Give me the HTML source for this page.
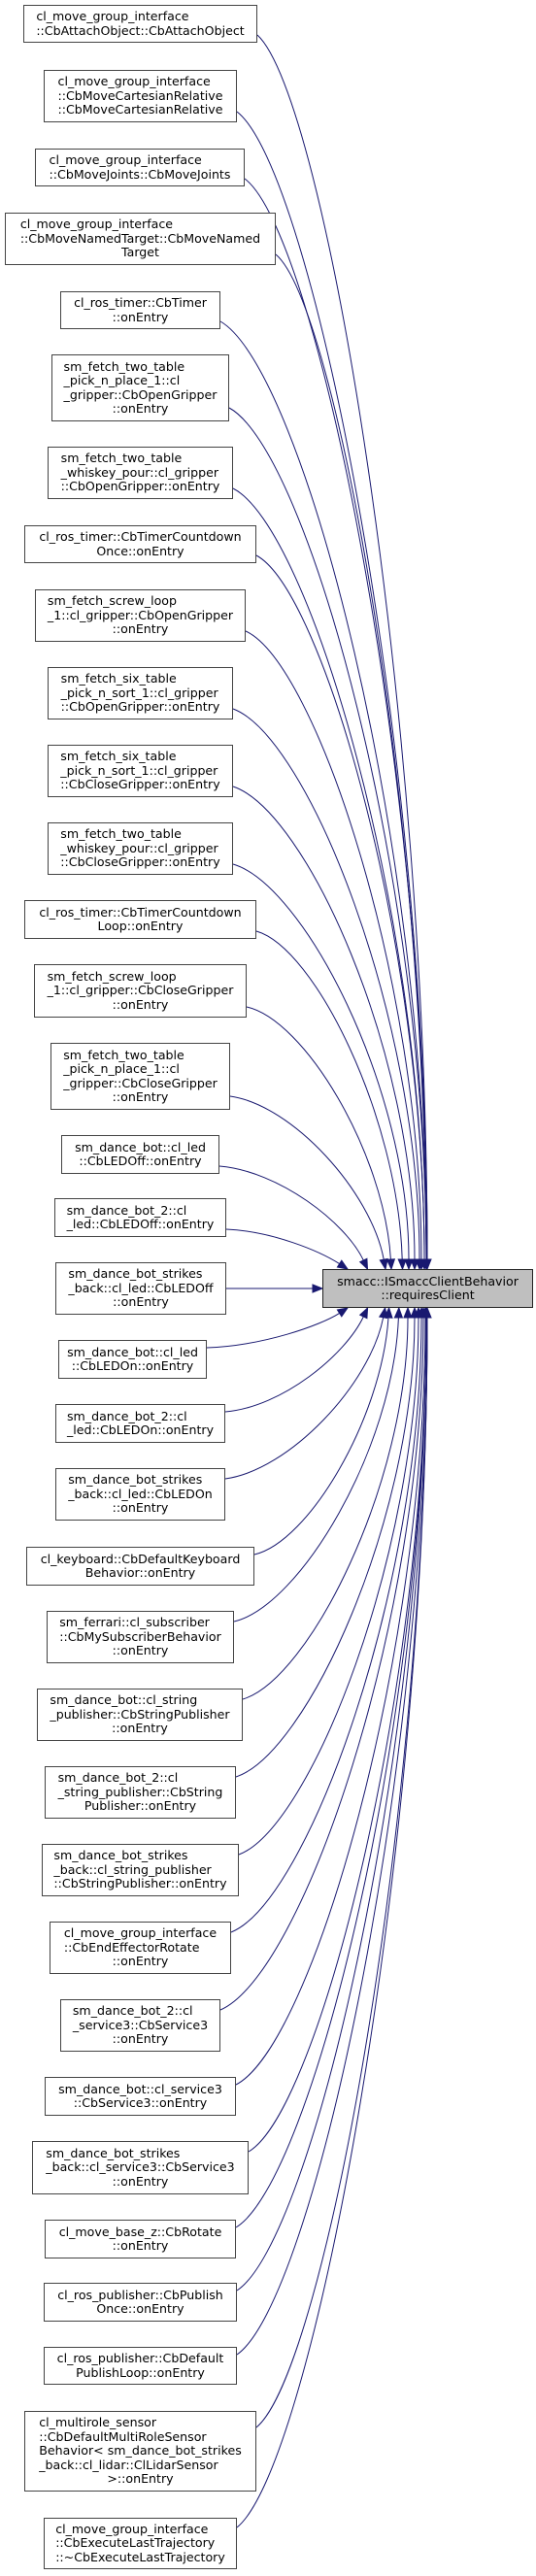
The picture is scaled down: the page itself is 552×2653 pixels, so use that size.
<!DOCTYPE html>
<html><head><meta charset="utf-8"><style>
html,body{margin:0;padding:0;background:#fff;}
body{width:552px;height:2653px;position:relative;overflow:hidden;font-family:"DejaVu Sans","Liberation Sans",sans-serif;font-size:12.6px;line-height:14.4px;color:#000;}
.b{position:absolute;box-sizing:border-box;border:1px solid #444;background:#fff;display:flex;align-items:center;justify-content:center;white-space:nowrap;}
.b>span{display:inline-block;text-align:left;}
.b>span>div:last-child{text-align:center;}
.t{background:#bfbfbf;border-color:#222;}
svg{position:absolute;left:0;top:0;}
</style></head><body>
<svg width="552" height="2653" viewBox="0 0 552 2653">
<g fill="none" stroke="#191970" stroke-width="1">
<path d="M265,36 C335,100 440,735 440,1297"/>
<path d="M244,115 C322,175 440,771 440,1297"/>
<path d="M252,184 C327,240 440,802 440,1297"/>
<path d="M284,262 C346,314 439,837 439,1297"/>
<path d="M227,331 C312,380 439,868 439,1297"/>
<path d="M236,420 C317,464 439,908 439,1297"/>
<path d="M240,503 C319,543 437,945 437,1297"/>
<path d="M264,572 C333,609 437,976 437,1297"/>
<path d="M253,650 C325,683 434,1011 434,1297"/>
<path d="M240,730 C317,759 432,1047 432,1297"/>
<path d="M240,810 C315,835 427,1083 427,1297"/>
<path d="M240,890 C312,911 421,1119 421,1297"/>
<path d="M264,959 C324,976 410,1150 414.2,1297"/>
<path d="M254,1037 C313,1050 395.5,1186 402.4,1297"/>
<path d="M237,1129 C301,1138 382,1227 395.2,1297"/>
<path d="M226,1201 C287,1206 356,1259 374.3,1298"/>
<path d="M233,1266 C281,1268 330,1289 349.6,1301.6"/>
<path d="M233,1327 L322,1327"/>
<path d="M213,1388 C271,1386 330,1365 349.6,1352.4"/>
<path d="M232,1454 C291,1449 356,1395 374.3,1356"/>
<path d="M232,1523 C298,1514 381,1426 394.7,1356.8"/>
<path d="M262,1601 C318,1588 393,1461 400,1357"/>
<path d="M241,1670 C309,1654 405,1492 410.4,1357"/>
<path d="M250,1750 C318,1730 420,1528 420,1357"/>
<path d="M243,1830 C316,1806 427,1564 427,1357"/>
<path d="M246,1910 C320,1882 431,1600 431,1357"/>
<path d="M238,1990 C317,1958 434,1636 434,1357"/>
<path d="M227,2070 C311,2034 436,1672 436,1357"/>
<path d="M243,2147 C321,2107 438,1707 438,1357"/>
<path d="M256,2216 C329,2173 439,1738 439,1357"/>
<path d="M243,2294 C321,2247 439,1773 439,1357"/>
<path d="M244,2359 C322,2308 439,1802 439,1357"/>
<path d="M244,2425 C322,2371 440,1832 440,1357"/>
<path d="M264,2500 C334,2442 440,1866 440,1357"/>
<path d="M244,2603 C322,2540 440,1912 440,1357"/>
</g>
<g fill="#191970" stroke="#191970" stroke-width="1">
<polygon points="436,1297 444,1297 440,1307"/>
<polygon points="435,1297 443,1297 439,1307"/>
<polygon points="433,1297 441,1297 437,1307"/>
<polygon points="430,1297 438,1297 434,1307"/>
<polygon points="428,1297 436,1297 432,1307"/>
<polygon points="423,1297 431,1297 427,1307"/>
<polygon points="417,1297 425,1297 421,1307"/>
<polygon points="410.2,1297 418.2,1297 414.5,1307"/>
<polygon points="398.4,1297.2 406.4,1296.8 403,1307"/>
<polygon points="391.3,1297.9 399.1,1296.5 397,1307"/>
<polygon points="370.7,1299.7 377.9,1296.3 378.5,1307"/>
<polygon points="347.4,1305 351.8,1298.2 358,1307"/>
<polygon points="322,1323 322,1331 332,1327"/>
<polygon points="351.8,1355.8 347.4,1349 358,1347"/>
<polygon points="377.9,1357.7 370.7,1354.3 378.6,1347"/>
<polygon points="398.6,1357.5 390.8,1356.1 396.6,1347"/>
<polygon points="404,1357.3 396,1356.7 400.6,1347"/>
<polygon points="414.4,1357 406.4,1357 410.8,1347"/>
<polygon points="416,1357 424,1357 420,1347"/>
<polygon points="423,1357 431,1357 427,1347"/>
<polygon points="427,1357 435,1357 431,1347"/>
<polygon points="430,1357 438,1357 434,1347"/>
<polygon points="432,1357 440,1357 436,1347"/>
<polygon points="434,1357 442,1357 438,1347"/>
<polygon points="435,1357 443,1357 439,1347"/>
<polygon points="436,1357 444,1357 440,1347"/>
</g>
</svg>

<div class="b t" style="left:332px;top:1307px;width:217px;height:40px;"><span><div>smacc::ISmaccClientBehavior</div><div>::requiresClient</div></span></div>

<div class="b" style="left:24px;top:5px;width:241px;height:39px;"><span><div>cl_move_group_interface</div><div>::CbAttachObject::CbAttachObject</div></span></div>
<div class="b" style="left:45px;top:72px;width:199px;height:54px;"><span><div>cl_move_group_interface</div><div>::CbMoveCartesianRelative</div><div>::CbMoveCartesianRelative</div></span></div>
<div class="b" style="left:36px;top:153px;width:216px;height:39px;"><span><div>cl_move_group_interface</div><div>::CbMoveJoints::CbMoveJoints</div></span></div>
<div class="b" style="left:5px;top:219px;width:279px;height:54px;"><span><div>cl_move_group_interface</div><div>::CbMoveNamedTarget::CbMoveNamed</div><div>Target</div></span></div>
<div class="b" style="left:62px;top:300px;width:165px;height:39px;"><span><div>cl_ros_timer::CbTimer</div><div>::onEntry</div></span></div>
<div class="b" style="left:53px;top:365px;width:183px;height:69px;"><span><div>sm_fetch_two_table</div><div>_pick_n_place_1::cl</div><div>_gripper::CbOpenGripper</div><div>::onEntry</div></span></div>
<div class="b" style="left:49px;top:460px;width:191px;height:54px;"><span><div>sm_fetch_two_table</div><div>_whiskey_pour::cl_gripper</div><div>::CbOpenGripper::onEntry</div></span></div>
<div class="b" style="left:25px;top:541px;width:239px;height:39px;"><span><div>cl_ros_timer::CbTimerCountdown</div><div>Once::onEntry</div></span></div>
<div class="b" style="left:36px;top:607px;width:217px;height:54px;"><span><div>sm_fetch_screw_loop</div><div>_1::cl_gripper::CbOpenGripper</div><div>::onEntry</div></span></div>
<div class="b" style="left:49px;top:687px;width:191px;height:54px;"><span><div>sm_fetch_six_table</div><div>_pick_n_sort_1::cl_gripper</div><div>::CbOpenGripper::onEntry</div></span></div>
<div class="b" style="left:49px;top:767px;width:191px;height:54px;"><span><div>sm_fetch_six_table</div><div>_pick_n_sort_1::cl_gripper</div><div>::CbCloseGripper::onEntry</div></span></div>
<div class="b" style="left:49px;top:847px;width:191px;height:54px;"><span><div>sm_fetch_two_table</div><div>_whiskey_pour::cl_gripper</div><div>::CbCloseGripper::onEntry</div></span></div>
<div class="b" style="left:25px;top:927px;width:239px;height:40px;"><span><div>cl_ros_timer::CbTimerCountdown</div><div>Loop::onEntry</div></span></div>
<div class="b" style="left:35px;top:993px;width:219px;height:55px;"><span><div>sm_fetch_screw_loop</div><div>_1::cl_gripper::CbCloseGripper</div><div>::onEntry</div></span></div>
<div class="b" style="left:52px;top:1074px;width:185px;height:69px;"><span><div>sm_fetch_two_table</div><div>_pick_n_place_1::cl</div><div>_gripper::CbCloseGripper</div><div>::onEntry</div></span></div>
<div class="b" style="left:63px;top:1169px;width:163px;height:40px;"><span><div>sm_dance_bot::cl_led</div><div>::CbLEDOff::onEntry</div></span></div>
<div class="b" style="left:56px;top:1234px;width:177px;height:40px;"><span><div>sm_dance_bot_2::cl</div><div>_led::CbLEDOff::onEntry</div></span></div>
<div class="b" style="left:57px;top:1300px;width:176px;height:54px;"><span><div>sm_dance_bot_strikes</div><div>_back::cl_led::CbLEDOff</div><div>::onEntry</div></span></div>
<div class="b" style="left:60px;top:1380px;width:153px;height:40px;"><span><div>sm_dance_bot::cl_led</div><div>::CbLEDOn::onEntry</div></span></div>
<div class="b" style="left:57px;top:1446px;width:175px;height:40px;"><span><div>sm_dance_bot_2::cl</div><div>_led::CbLEDOn::onEntry</div></span></div>
<div class="b" style="left:57px;top:1512px;width:175px;height:54px;"><span><div>sm_dance_bot_strikes</div><div>_back::cl_led::CbLEDOn</div><div>::onEntry</div></span></div>
<div class="b" style="left:27px;top:1593px;width:235px;height:40px;"><span><div>cl_keyboard::CbDefaultKeyboard</div><div>Behavior::onEntry</div></span></div>
<div class="b" style="left:48px;top:1659px;width:193px;height:54px;"><span><div>sm_ferrari::cl_subscriber</div><div>::CbMySubscriberBehavior</div><div>::onEntry</div></span></div>
<div class="b" style="left:38px;top:1739px;width:212px;height:54px;"><span><div>sm_dance_bot::cl_string</div><div>_publisher::CbStringPublisher</div><div>::onEntry</div></span></div>
<div class="b" style="left:46px;top:1819px;width:197px;height:54px;"><span><div>sm_dance_bot_2::cl</div><div>_string_publisher::CbString</div><div>Publisher::onEntry</div></span></div>
<div class="b" style="left:43px;top:1899px;width:203px;height:54px;"><span><div>sm_dance_bot_strikes</div><div>_back::cl_string_publisher</div><div>::CbStringPublisher::onEntry</div></span></div>
<div class="b" style="left:51px;top:1979px;width:187px;height:54px;"><span><div>cl_move_group_interface</div><div>::CbEndEffectorRotate</div><div>::onEntry</div></span></div>
<div class="b" style="left:62px;top:2059px;width:165px;height:54px;"><span><div>sm_dance_bot_2::cl</div><div>_service3::CbService3</div><div>::onEntry</div></span></div>
<div class="b" style="left:46px;top:2139px;width:197px;height:40px;"><span><div>sm_dance_bot::cl_service3</div><div>::CbService3::onEntry</div></span></div>
<div class="b" style="left:33px;top:2205px;width:223px;height:55px;"><span><div>sm_dance_bot_strikes</div><div>_back::cl_service3::CbService3</div><div>::onEntry</div></span></div>
<div class="b" style="left:46px;top:2286px;width:197px;height:40px;"><span><div>cl_move_base_z::CbRotate</div><div>::onEntry</div></span></div>
<div class="b" style="left:45px;top:2351px;width:199px;height:40px;"><span><div>cl_ros_publisher::CbPublish</div><div>Once::onEntry</div></span></div>
<div class="b" style="left:45px;top:2417px;width:199px;height:39px;"><span><div>cl_ros_publisher::CbDefault</div><div>PublishLoop::onEntry</div></span></div>
<div class="b" style="left:25px;top:2483px;width:239px;height:83px;"><span><div>cl_multirole_sensor</div><div>::CbDefaultMultiRoleSensor</div><div>Behavior&lt; sm_dance_bot_strikes</div><div>_back::cl_lidar::ClLidarSensor</div><div>&gt;::onEntry</div></span></div>
<div class="b" style="left:45px;top:2593px;width:199px;height:53px;"><span><div>cl_move_group_interface</div><div>::CbExecuteLastTrajectory</div><div>::~CbExecuteLastTrajectory</div></span></div>
</body></html>
